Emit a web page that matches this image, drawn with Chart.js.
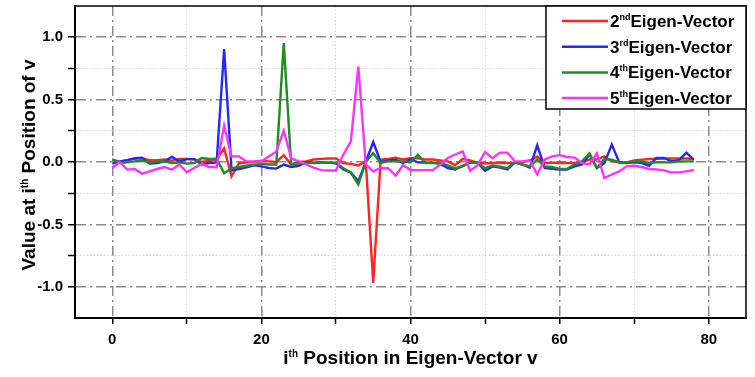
<!DOCTYPE html>
<html><head><meta charset="utf-8">
<script src="https://cdn.jsdelivr.net/npm/chart.js@4/dist/chart.umd.min.js"></script>
<style>html,body{margin:0;padding:0;background:#fff;}#wrap{width:755px;height:377px;}</style>
</head><body><div id="wrap"><canvas id="c" width="755" height="377"></canvas></div>
<script>
const positions = [0,1,2,3,4,5,6,7,8,9,10,11,12,13,14,15,16,17,18,19,20,21,22,23,24,25,26,27,28,29,30,31,32,33,34,35,36,37,38,39,40,41,42,43,44,45,46,47,48,49,50,51,52,53,54,55,56,57,58,59,60,61,62,63,64,65,66,67,68,69,70,71,72,73,74,75,76,77,78];
const eigen2 = [0.02,0.0,0.015,0.025,0.03,0.015,0.015,0.02,0.01,0.025,0.025,0.02,0.0,0.01,0.02,0.11,-0.115,-0.01,-0.005,0.0,0.01,0.005,0.0,0.055,-0.02,0.0,0.005,0.02,0.025,0.028,0.028,-0.008,-0.015,-0.027,0.005,-0.968,0.02,0.025,0.035,0.02,0.03,0.03,0.02,0.02,0.013,0.005,-0.025,0.025,0.012,-0.008,-0.01,-0.008,-0.008,-0.008,-0.005,0.0,0.012,0.045,-0.01,-0.005,-0.008,-0.008,-0.008,0.0,0.02,0.02,0.045,0.005,-0.003,-0.003,0.012,0.018,0.024,0.026,0.028,0.028,0.028,0.028,0.024];
const eigen3 = [-0.013,0.005,0.015,0.03,0.035,-0.013,-0.008,0.005,0.04,0.005,0.023,0.023,-0.02,-0.008,-0.003,0.904,-0.067,-0.056,-0.043,-0.027,-0.035,-0.048,-0.053,-0.021,-0.04,-0.03,0.0,-0.008,-0.005,-0.005,-0.01,-0.06,-0.085,-0.155,0.0,0.16,0.0,0.013,0.018,-0.008,0.022,-0.003,-0.005,-0.005,-0.015,-0.048,-0.06,-0.03,-0.005,-0.005,-0.07,-0.035,-0.045,-0.06,-0.003,-0.02,-0.045,0.133,-0.048,-0.055,-0.06,-0.06,-0.035,-0.02,0.06,-0.048,-0.01,0.139,-0.003,-0.008,-0.003,-0.008,-0.03,0.032,0.032,0.005,0.015,0.075,0.018];
const eigen4 = [0.02,-0.008,-0.003,0.005,0.013,-0.003,0.003,0.005,-0.008,-0.003,-0.013,-0.008,0.032,0.024,0.027,-0.09,-0.05,-0.04,-0.03,-0.022,-0.015,-0.02,-0.02,0.952,-0.02,-0.01,-0.005,-0.005,-0.005,-0.005,-0.005,-0.05,-0.085,-0.18,0.0,0.07,-0.008,0.005,0.005,0.005,-0.003,0.058,-0.008,-0.008,-0.008,-0.028,-0.05,-0.035,0.0,-0.003,-0.05,-0.028,-0.038,-0.05,0.0,-0.02,-0.035,0.02,-0.035,-0.04,-0.055,-0.055,-0.02,0.005,0.07,-0.048,0.024,0.018,-0.003,-0.003,0.005,0.005,-0.008,-0.003,-0.003,-0.003,0.005,0.005,0.005];
const eigen5 = [-0.048,0.0,-0.061,-0.056,-0.093,-0.075,-0.056,-0.04,-0.061,-0.021,-0.083,-0.048,-0.013,-0.04,-0.043,0.29,0.045,0.045,0.005,0.005,0.005,0.045,0.085,0.25,0.03,0.005,-0.02,-0.045,-0.065,-0.068,-0.068,0.06,0.165,0.765,-0.02,-0.075,-0.048,-0.05,-0.11,-0.025,-0.065,-0.065,-0.065,-0.065,-0.02,0.032,0.06,0.085,-0.07,-0.025,0.08,0.03,0.075,0.075,0.005,0.005,0.012,-0.1,0.02,0.045,0.055,0.04,0.035,-0.008,-0.02,0.07,-0.128,-0.1,-0.075,-0.035,-0.03,-0.04,-0.056,-0.06,-0.067,-0.083,-0.083,-0.075,-0.064];

const seriesNames = ['2nd Eigen-Vector','3rd Eigen-Vector','4th Eigen-Vector','5th Eigen-Vector'];
const legendOrdinals = ['2','3','4','5'];
const legendSuffixes = ['nd','rd','th','th'];
const legendWord = 'Eigen-Vector';
const seriesColors = ['#ff2424','#2626ff','#1f8c1f','#ff33ff'];
const xTickLabelValues = [0,20,40,60,80];
const xMinorValues = [10,30,50,70];
const yTickLabelValues = [-1.0,-0.5,0.0,0.5,1.0];
const xTitleParts = [['i',false],['th',true],[' Position in Eigen-Vector v',false]];
const yTitleParts = [['Value at i',false],['th',true],[' Position of v',false]];

const FAM = "'Liberation Sans', Arial, sans-serif";
const seriesValues = [eigen2, eigen3, eigen4, eigen5];

function isMajorX(v){ return xTickLabelValues.includes(v); }
function isMinorX(v){ return xMinorValues.includes(v); }
function isMajorY(v){ return yTickLabelValues.some(t => Math.abs(t - v) < 1e-9); }
function isEdgeY(v){ return Math.abs(Math.abs(v) - 1.25) < 1e-9; }

function drawParts(ctx, parts, size, supSize, cx, cy){
  let total = 0;
  parts.forEach(([t,sup]) => { ctx.font = 'bold ' + (sup?supSize:size) + 'px ' + FAM; total += ctx.measureText(t).width; });
  let x = cx - total/2;
  ctx.textBaseline = 'alphabetic';
  ctx.textAlign = 'left';
  parts.forEach(([t,sup]) => {
    ctx.font = 'bold ' + (sup?supSize:size) + 'px ' + FAM;
    ctx.fillText(t, x, sup ? cy - size*0.38 : cy);
    x += ctx.measureText(t).width;
  });
}

const decorPlugin = {
  id: 'decor',
  afterDraw(chart){
    const ctx = chart.ctx; const a = chart.chartArea;
    ctx.save();
    ctx.strokeStyle = '#000'; ctx.lineWidth = 1.5;
    ctx.beginPath(); ctx.moveTo(a.left, a.top); ctx.lineTo(a.right, a.top); ctx.lineTo(a.right, a.bottom); ctx.stroke();
    const bx = a.right - 200, by = a.top, bw = 200, bh = 103;
    ctx.fillStyle = '#fff'; ctx.fillRect(bx, by, bw, bh);
    ctx.strokeStyle = '#000'; ctx.lineWidth = 1.5; ctx.strokeRect(bx, by, bw, bh);
    for (let i = 0; i < seriesNames.length; i++){
      const y = by + 15 + i*25.7;
      ctx.strokeStyle = seriesColors[i]; ctx.lineWidth = 2.5;
      ctx.beginPath(); ctx.moveTo(bx + 16, y); ctx.lineTo(bx + 62, y); ctx.stroke();
      ctx.fillStyle = '#000'; ctx.textBaseline = 'alphabetic'; ctx.textAlign = 'left';
      let x = bx + 64;
      ctx.font = 'bold 17px ' + FAM; ctx.fillText(legendOrdinals[i], x, y + 6); x += ctx.measureText(legendOrdinals[i]).width;
      ctx.font = 'bold 9px ' + FAM; ctx.fillText(legendSuffixes[i], x, y - 1); x += ctx.measureText(legendSuffixes[i]).width;
      ctx.font = 'bold 17px ' + FAM; ctx.fillText(legendWord, x, y + 6);
    }
    ctx.fillStyle = '#000';
    drawParts(ctx, xTitleParts, 19, 10, (a.left + a.right)/2, 364);
    ctx.save();
    ctx.translate(35, (a.top + a.bottom)/2 + 3);
    ctx.rotate(-Math.PI/2);
    drawParts(ctx, yTitleParts, 19, 10, 0, 0);
    ctx.restore();
    ctx.restore();
  }
};

const datasets = seriesValues.map((vals, i) => ({
  label: seriesNames[i],
  data: positions.map((p, k) => ({x: p, y: vals[k]})),
  borderColor: seriesColors[i],
  backgroundColor: seriesColors[i],
  borderWidth: 2.4,
  pointRadius: 0,
  tension: 0,
  fill: false,
  order: seriesValues.length - i
}));

new Chart(document.getElementById('c'), {
  type: 'line',
  data: { datasets },
  plugins: [decorPlugin],
  options: {
    responsive: false, animation: false, devicePixelRatio: 1,
    layout: { padding: { left: 0, top: 6, right: 9, bottom: 0 } },
    plugins: { legend: { display: false }, tooltip: { enabled: false } },
    scales: {
      x: {
        type: 'linear', min: -5, max: 85,
        afterBuildTicks: s => { s.ticks = [-5,0,10,20,30,40,50,60,70,80,85].map(v => ({value: v})); },
        afterFit: s => { s.height = 59; s.paddingLeft = 0; s.paddingRight = 0; },
        ticks: { callback: v => isMajorX(v) ? String(v) : '', autoSkip: false, maxRotation: 0, color: '#000', padding: 7,
                 font: { family: FAM, size: 15, weight: 'bold' } },
        grid: {
          color: c => isMajorX(c.tick.value) ? '#8a8a8a' : (isMinorX(c.tick.value) ? '#d4d4d4' : 'rgba(0,0,0,0)'),
          lineWidth: c => isMajorX(c.tick.value) ? 1.5 : 1,
          tickLength: 6,
          tickColor: c => (isMajorX(c.tick.value) || isMinorX(c.tick.value)) ? '#000' : 'rgba(0,0,0,0)',
          tickWidth: 1.5
        },
        border: { display: true, color: '#000', width: 2,
                  dash: c => c.tick ? (isMajorX(c.tick.value) ? [10,4,2,4] : [1.5,2]) : [] }
      },
      y: {
        type: 'linear', min: -1.25, max: 1.25,
        afterBuildTicks: s => { const t = []; for (let k = -5; k <= 5; k++) t.push({value: k*0.25}); s.ticks = t; },
        afterFit: s => { s.width = 75; s.paddingTop = 0; s.paddingBottom = 0; },
        ticks: { callback: v => isMajorY(v) ? v.toFixed(1) : '', autoSkip: false, color: '#000', padding: 5,
                 font: { family: FAM, size: 15, weight: 'bold' } },
        grid: {
          color: c => isEdgeY(c.tick.value) ? 'rgba(0,0,0,0)' : (isMajorY(c.tick.value) ? '#8a8a8a' : '#d4d4d4'),
          lineWidth: c => isMajorY(c.tick.value) ? 1.5 : 1,
          tickLength: 7,
          tickColor: c => isEdgeY(c.tick.value) ? 'rgba(0,0,0,0)' : '#000',
          tickWidth: 1.5
        },
        border: { display: true, color: '#000', width: 2,
                  dash: c => c.tick ? (isMajorY(c.tick.value) ? [10,4,2,4] : [1.5,2]) : [] }
      }
    }
  }
});
</script></body></html>
